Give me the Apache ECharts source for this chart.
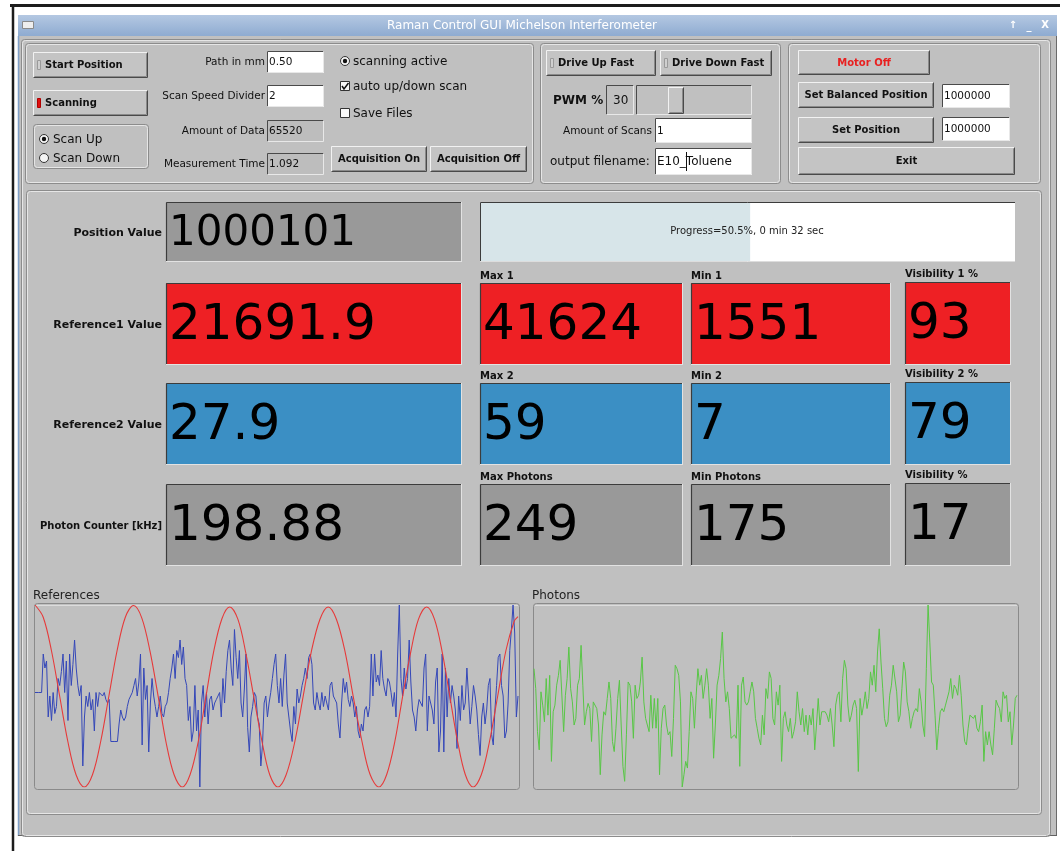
<!DOCTYPE html>
<html><head><meta charset="utf-8">
<script src="https://cdn.jsdelivr.net/npm/echarts@6/dist/echarts.min.js"></script>
<style>html,body{margin:0;padding:0;background:#fff}#c{width:1060px;height:851px}</style>
</head><body><div id="c"></div><script>
// ---------------- data ----------------
const windowTitle = 'Raman Control GUI Michelson Interferometer';
const rowLabels = ['Position Value', 'Reference1 Value', 'Reference2 Value', 'Photon Counter [kHz]'];
const mainValues = ['1000101', '21691.9', '27.9', '198.88'];
const maxLabels = ['Max 1', 'Max 2', 'Max Photons'];
const minLabels = ['Min 1', 'Min 2', 'Min Photons'];
const visLabels = ['Visibility 1 %', 'Visibility 2 %', 'Visibility %'];
const maxValues = [41624, 59, 249];
const minValues = [1551, 7, 175];
const visValues = [93, 79, 17];
const progressPct = 50.5;
const progressText = 'Progress=50.5%, 0 min 32 sec';
const plotTitles = ['References', 'Photons'];

// Reference 1 (red), x in 0..1000 along the scan window
const ref1X = [0,17,34,51,68,85,102,119,136,153,170,187,204,221,238,255,271,288,305,321,338,354,370,387,403,420,436,453,470,486,503,520,538,555,572,590,607,624,642,659,677,694,712,728,745,761,778,794,811,827,843,859,875,891,907,924,941,958,975,992,1000];
const ref1Y = [41624,38939,31606,21588,11570,4237,1551,4237,11570,21588,31606,38939,41500,38800,31500,21500,11570,4237,1551,4237,11570,21500,31400,38600,41200,38500,31300,21400,11570,4237,1551,4237,11570,21400,31300,38500,41200,38500,31300,21400,11570,4237,1551,4237,11570,21400,31300,38500,41200,38500,31300,21400,11570,4237,1551,4237,11570,21588,31606,38000,39060];
// Reference 2 (blue)
const ref2Values = [34,34,34,34,34,45,41,43,27,33,26,34,28,30,38,36,40,45,34,43,26,45,36,42,49,41,36,33,36,13,27,33,30,34,29,32,23,34,30,34,34,33,34,32,31,32,20,20,20,20,20,25,29,27,26,27,30,32,33,34,36,38,33,37,45,19,41,32,36,17,31,38,33,30,27,30,33,28,27,30,31,34,38,41,45,38,46,44,49,42,47,38,36,26,30,20,23,36,23,29,7,31,36,27,34,25,32,33,29,31,32,33,34,27,38,31,40,46,49,41,36,52,44,38,46,31,27,35,45,24,17,27,30,34,33,27,25,13,19,31,33,27,31,34,38,42,45,36,31,38,30,39,45,31,27,23,20,30,25,35,31,33,36,38,41,38,44,45,42,31,29,34,31,29,34,30,33,31,29,36,37,33,32,31,25,21,31,38,34,37,32,30,33,31,27,30,23,21,25,23,29,30,27,30,45,33,45,37,39,36,46,38,35,33,38,37,34,30,34,27,45,59,38,33,41,35,38,49,37,29,27,23,29,32,31,30,41,45,23,33,31,29,25,37,41,17,23,45,17,41,27,38,31,36,33,29,18,33,26,36,29,31,41,33,25,30,36,33,29,22,16,27,31,25,29,36,38,22,19,29,36,44,45,36,33,21,23,31,46,52,59,51,27,33];
// Photons (green)
const photonValues = [223.1,215.0,197.5,190.1,213.7,208.3,201.5,219.1,204.2,220.4,185.4,205.6,208.3,216.4,220.4,226.5,225.8,197.5,212.3,219.1,231.9,215.0,209.6,200.2,202.9,216.4,219.1,232.6,216.4,200.2,205.6,209.0,206.9,193.5,209.6,210.3,206.9,200.2,180.0,196.2,205.6,204.2,211.0,217.7,211.0,193.5,189.4,198.9,211.0,218.4,200.2,183.4,177.3,196.2,217.7,216.4,209.6,194.8,216.4,211.0,212.3,217.7,227.8,209.6,202.9,200.2,197.5,212.3,198.9,211.0,198.9,211.0,180.0,198.9,206.9,208.3,200.2,196.2,197.5,187.4,202.9,224.5,223.1,220.4,209.6,175.0,180.0,185.4,182.7,197.5,213.7,211.0,198.9,212.3,223.1,216.4,220.4,211.0,216.4,223.1,216.4,202.9,211.0,186.7,200.2,216.4,220.4,227.2,238.0,219.1,209.6,213.7,206.9,194.8,195.5,196.2,194.8,216.4,183.4,216.4,219.7,209.6,208.3,209.6,213.7,217.7,213.7,202.9,198.9,194.8,192.1,204.2,196.2,215.0,211.0,221.8,219.1,202.9,200.2,213.7,208.3,216.4,185.4,202.9,205.6,200.2,197.5,202.9,194.8,197.5,201.5,213.7,205.6,200.2,206.9,197.5,204.2,196.2,204.2,200.2,206.9,190.1,200.2,211.0,200.2,205.6,205.6,205.6,204.2,201.5,206.9,200.2,191.4,208.3,212.3,213.7,201.5,219.1,226.5,223.1,208.3,201.5,204.2,208.3,210.3,206.9,181.3,211.0,204.2,208.3,213.7,206.9,211.0,221.8,216.4,224.5,213.7,229.9,239.3,225.8,215.0,202.9,199.5,201.5,212.3,216.4,224.5,225.1,213.7,201.5,204.2,215.0,225.8,221.8,209.6,205.6,198.9,202.9,205.6,206.9,205.6,215.0,209.6,200.2,195.5,223.1,249.0,233.9,217.7,216.4,204.2,190.1,198.9,205.6,206.9,205.6,208.3,208.3,213.7,219.1,211.0,216.4,215.0,212.3,220.4,212.3,200.2,193.5,192.1,198.9,204.2,204.2,202.9,204.2,198.9,197.5,201.5,208.3,185.4,197.5,192.1,197.5,192.1,188.1,198.9,210.3,208.3,206.9,201.5,213.7,211.0,212.3,201.5,205.6,192.1,200.2,211.0,212.3];

// ---------------- drawing helpers (GUI decoration) ----------------
const FF = '"DejaVu Sans", Verdana, sans-serif';
const G = [];
const BG = '#c0c0c0';
function rect(x, y, w, h, fill, stroke, lw, r, z) {
  G.push({type: 'rect', silent: true, z: z || 1, shape: {x: x, y: y, width: w, height: h, r: r || 0},
    style: {fill: fill || 'none', stroke: stroke || null, lineWidth: lw || 1}});
}
function line(x1, y1, x2, y2, c, lw, z) {
  G.push({type: 'line', silent: true, z: z || 1, shape: {x1: x1, y1: y1, x2: x2, y2: y2}, style: {stroke: c, lineWidth: lw || 1}});
}
function text(x, y, s, size, o) {
  o = o || {};
  G.push({type: 'text', silent: true, z: o.z || 5, x: x, y: y,
    style: {text: String(s), fontFamily: FF, fontSize: size, fontWeight: o.bold ? 'bold' : 'normal',
      fill: o.color || '#111', textAlign: o.align || 'left', textVerticalAlign: 'middle',
      align: o.align || 'left', verticalAlign: 'middle'}});
}
function raised(x, y, w, h, face) {
  rect(x, y, w, h, face || '#c4c4c4');
  line(x + 0.5, y + 0.5, x + w - 0.5, y + 0.5, '#f2f2f2');
  line(x + 0.5, y + 0.5, x + 0.5, y + h - 0.5, '#f2f2f2');
  line(x + 0.5, y + h - 0.5, x + w - 0.5, y + h - 0.5, '#4a4a4a');
  line(x + w - 0.5, y + 0.5, x + w - 0.5, y + h - 0.5, '#4a4a4a');
  line(x + 1.5, y + h - 1.5, x + w - 1.5, y + h - 1.5, '#8a8a8a');
  line(x + w - 1.5, y + 1.5, x + w - 1.5, y + h - 1.5, '#8a8a8a');
}
function sunken(x, y, w, h, face) {
  rect(x, y, w, h, face);
  line(x + 0.5, y + 0.5, x + w - 0.5, y + 0.5, '#4a4a4a');
  line(x + 0.5, y + 0.5, x + 0.5, y + h - 0.5, '#4a4a4a');
  line(x + 0.5, y + h - 0.5, x + w - 0.5, y + h - 0.5, '#e8e8e8');
  line(x + w - 0.5, y + 0.5, x + w - 0.5, y + h - 0.5, '#e8e8e8');
}
function group(x, y, w, h) {
  rect(x + 0.5, y + 0.5, w, h, null, '#8c8c8c', 1, 3);
  rect(x + 1.5, y + 1.5, w - 2, h - 2, null, '#e6e6e6', 1, 3);
}
function button(x, y, w, h, label, o) {
  o = o || {};
  raised(x, y, w, h);
  if (o.ind) {
    rect(x + 4.5, y + 8.5, 3, 9, o.ind === 'red' ? '#e01010' : '#d0d0d0', o.ind === 'red' ? '#b00000' : '#9a9a9a');
    text(x + 12, y + h / 2 + 0.5, label, 10, {bold: true, color: o.color});
  } else {
    text(x + w / 2, y + h / 2 + 0.5, label, 10, {bold: true, align: 'center', color: o.color});
  }
}
function field(x, y, w, h, val, o) {
  o = o || {};
  sunken(x, y, w, h, o.fill || '#ffffff');
  text(x + 2, y + h / 2 + 0.5, val, o.size || 10.5, {color: '#111'});
}
function radio(cx, cy, on) {
  G.push({type: 'circle', silent: true, z: 3, shape: {cx: cx, cy: cy, r: 4.5}, style: {fill: '#f4f4f4', stroke: '#333', lineWidth: 1}});
  if (on) G.push({type: 'circle', silent: true, z: 4, shape: {cx: cx, cy: cy, r: 2.2}, style: {fill: '#111'}});
}
function check(x, y, on) {
  rect(x + 0.5, y + 0.5, 9, 9, '#f8f8f8', '#333', 1);
  if (on) G.push({type: 'polyline', silent: true, z: 4, shape: {points: [[x + 2, y + 5], [x + 4, y + 8], [x + 8.5, y + 2]]}, style: {stroke: '#111', lineWidth: 1.5, fill: 'none'}});
}

// ---------------- window frame ----------------
line(10, 5.5, 1060, 5.5, '#1c1c1c', 3, 0);
line(13, 5, 13, 851, '#1c1c1c', 2.5, 0);
rect(18, 36, 1039, 800, BG, null, 1, 0, 0);
G.push({type: 'rect', silent: true, z: 1, shape: {x: 18, y: 15, width: 1039, height: 21},
  style: {fill: {type: 'linear', x: 0, y: 0, x2: 0, y2: 1, colorStops: [{offset: 0, color: '#b4c8e2'}, {offset: 1, color: '#8eabd1'}]}}});
rect(22.5, 21.5, 11, 7, '#eeeeee', '#8a8a8a');
text(522, 25.5, windowTitle, 12, {align: 'center', color: '#ffffff'});
text(1013, 25.5, '\u2191', 10, {align: 'center', color: '#ffffff', bold: true});
text(1029, 26, '_', 10, {align: 'center', color: '#ffffff', bold: true});
text(1045, 25.5, 'X', 10, {align: 'center', color: '#ffffff', bold: true});
line(18.5, 36, 18.5, 836, '#7f9fc8', 1.5);
line(1056.5, 36, 1056.5, 836, '#6a6a6a', 1);
line(18, 835.5, 1057, 835.5, '#606060', 1);
group(21, 39, 1029, 797);

// ---------------- panel 1 ----------------
group(25, 43, 508, 140);
button(33, 52, 115, 26, 'Start Position', {ind: 'grey'});
button(33, 90, 115, 26, 'Scanning', {ind: 'red'});
group(33, 124, 115, 44);
radio(44, 139, true); text(53, 139.5, 'Scan Up', 12);
radio(44, 158, false); text(53, 158.5, 'Scan Down', 12);
const p1Labels = ['Path in mm', 'Scan Speed Divider', 'Amount of Data', 'Measurement Time'];
const p1Vals = ['0.50', '2', '65520', '1.092'];
const p1Y = [51, 85, 120, 153];
p1Labels.forEach(function (l, i) {
  text(265, p1Y[i] + 11, l, 10.5, {align: 'right'});
  field(267, p1Y[i], 57, 22, p1Vals[i], {fill: i < 2 ? '#ffffff' : '#bdbdbd'});
});
radio(345, 61, true); text(353, 61.5, 'scanning active', 12);
check(340, 81, true); text(353, 86.5, 'auto up/down scan', 12);
check(340, 108, false); text(353, 113.5, 'Save Files', 12);
button(331, 146, 96, 26, 'Acquisition On');
button(430, 146, 97, 26, 'Acquisition Off');

// ---------------- panel 2 ----------------
group(540, 43, 240, 140);
button(546, 50, 110, 26, 'Drive Up Fast', {ind: 'grey'});
button(660, 50, 112, 26, 'Drive Down Fast', {ind: 'grey'});
text(553, 101, 'PWM %', 12, {bold: true});
sunken(606, 85, 28, 30, BG);
text(613, 100.5, '30', 12);
sunken(636, 85, 116, 30, BG);
raised(668, 87, 16, 27);
text(652, 131, 'Amount of Scans', 10.5, {align: 'right'});
field(655, 118, 97, 25, '1');
text(550, 162, 'output filename:', 12);
field(655, 148, 97, 27, 'E10_Toluene', {size: 12});
line(686.5, 152, 686.5, 171, '#111', 1, 6);

// ---------------- panel 3 ----------------
group(788, 43, 252, 140);
button(798, 50, 132, 25, 'Motor Off', {color: '#e82020'});
button(798, 82, 136, 26, 'Set Balanced Position');
field(942, 84, 68, 24, '1000000');
button(798, 117, 136, 26, 'Set Position');
field(942, 117, 68, 24, '1000000');
button(798, 147, 217, 28, 'Exit');

// ---------------- lower panel ----------------
group(26, 190, 1015, 624);
const rowTop = [202, 283, 383, 484];
const rowH = [60, 82, 82, 82];
const rowFill = ['#999999', '#ee2024', '#3b8fc4', '#999999'];
function box(x, y, w, h, fill, val, size) {
  rect(x, y, w, h, fill);
  line(x + 0.5, y + 0.5, x + w, y + 0.5, '#3c3c3c', 1.2);
  line(x + 0.5, y + 0.5, x + 0.5, y + h, '#3c3c3c', 1.2);
  line(x, y + h - 0.5, x + w, y + h - 0.5, '#e2e2e2');
  line(x + w - 0.5, y, x + w - 0.5, y + h, '#e2e2e2');
  text(x + 3, y + h / 2 + 2, val, size, {color: '#000'});
}
rowLabels.forEach(function (l, i) {
  text(162, rowTop[i] + rowH[i] / 2 + 1, l, i === 3 ? 10 : 11, {bold: true, align: 'right'});
  box(166, rowTop[i], 296, rowH[i], rowFill[i], mainValues[i], i === 0 ? 42 : 50);
});
// progress bar
rect(480, 202, 535, 60, '#ffffff');
rect(481, 203, 533 * progressPct / 100, 58, '#d7e5e9');
line(480.5, 202.5, 1015, 202.5, '#3c3c3c');
line(480.5, 202.5, 480.5, 262, '#3c3c3c');
line(480, 261.5, 1015, 261.5, '#dddddd');
text(747, 231.5, progressText, 10, {align: 'center', color: '#222'});
for (let k = 0; k < 3; k++) {
  const y = rowTop[k + 1], h = rowH[k + 1], f = rowFill[k + 1];
  text(480, y - 7, maxLabels[k], 10, {bold: true});
  text(691, y - 7, minLabels[k], 10, {bold: true});
  text(905, y - 9, visLabels[k], 10, {bold: true});
  box(480, y, 203, h, f, maxValues[k], 50);
  box(691, y, 200, h, f, minValues[k], 50);
  box(905, y - 1, 106, h + 1, f, visValues[k], 50);
}
// plot frames
const frames = [[34, 603, 485, 186], [533, 603, 485, 186]];
frames.forEach(function (fr, i) {
  text(fr[0] - 1, 595.5, plotTitles[i], 12, {color: '#222'});
  rect(fr[0] + 0.5, fr[1] + 0.5, fr[2], fr[3], BG, '#8a8a8a', 1, 3, 0);
  line(fr[0] + 2, fr[1] + 2.5, fr[0] + fr[2] - 1, fr[1] + 2.5, '#dcdcdc', 1, 0);
  G.push({type: 'rect', silent: true, z: 0, shape: {x: fr[0] + 1, y: fr[1] + fr[3] - 5, width: fr[2] - 1, height: 5},
    style: {fill: {type: 'linear', x: 0, y: 0, x2: 0, y2: 1, colorStops: [{offset: 0, color: '#d2d2d2'}, {offset: 0.5, color: '#f2f2f2'}, {offset: 1, color: '#cfcfcf'}]}}});
});

// ---------------- charts ----------------
const chart = echarts.init(document.getElementById('c'), null, {renderer: 'canvas'});
const hiddenAxis = {show: false, axisLine: {show: false}, splitLine: {show: false}, axisTick: {show: false}, axisLabel: {show: false}};
const ref1Data = ref1X.map(function (x, i) { return [x, ref1Y[i]]; });
const ref2Data = ref2Values.map(function (v, i) { return [i * 1000 / (ref2Values.length - 1), v]; });
const photonData = photonValues.map(function (v, i) { return [i, v]; });
chart.setOption({
  animation: false,
  backgroundColor: 'transparent',
  graphic: {elements: G},
  grid: [
    {left: 35, top: 605, width: 483, height: 182},
    {left: 534, top: 605, width: 483, height: 182}
  ],
  xAxis: [
    Object.assign({type: 'value', gridIndex: 0, min: 0, max: 1000}, hiddenAxis),
    Object.assign({type: 'value', gridIndex: 1, min: 0, max: photonValues.length - 1}, hiddenAxis)
  ],
  yAxis: [
    Object.assign({type: 'value', gridIndex: 0, min: minValues[0], max: maxValues[0]}, hiddenAxis),
    Object.assign({type: 'value', gridIndex: 0, min: minValues[1], max: maxValues[1]}, hiddenAxis),
    Object.assign({type: 'value', gridIndex: 1, min: minValues[2], max: maxValues[2]}, hiddenAxis)
  ],
  series: [
    {type: 'line', xAxisIndex: 0, yAxisIndex: 1, data: ref2Data, showSymbol: false, silent: true, z: 3,
      lineStyle: {color: '#3447b8', width: 1}},
    {type: 'line', xAxisIndex: 0, yAxisIndex: 0, data: ref1Data, smooth: 0.35, showSymbol: false, silent: true, z: 4,
      lineStyle: {color: '#e63a3a', width: 1.1}},
    {type: 'line', xAxisIndex: 1, yAxisIndex: 2, data: photonData, showSymbol: false, silent: true, z: 3,
      lineStyle: {color: '#58c646', width: 1}}
  ]
});
</script></body></html>
